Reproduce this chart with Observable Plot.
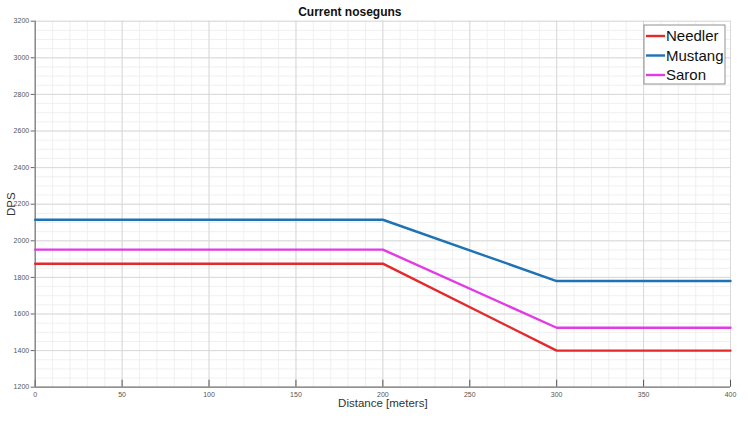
<!DOCTYPE html>
<html>
<head>
<meta charset="utf-8">
<script src="https://cdn.jsdelivr.net/npm/d3@7"></script>
<script src="https://cdn.jsdelivr.net/npm/@observablehq/plot@0.6"></script>
<style>
  html, body { margin: 0; padding: 0; background: #fff; }
  #chart { width: 749px; height: 427px; }
  svg { font-family: "Liberation Sans", Arial, sans-serif; }
</style>
</head>
<body>
<div id="chart"></div>
<script>
const title = "Current noseguns";
const xLabel = "Distance [meters]";
const yLabel = "DPS";
const series = ["Needler", "Mustang", "Saron"];
const colors = ["#e3292c", "#1f72b3", "#e23be6"];
const distance = [0, 200, 300, 400];
const needler = [1875, 1875, 1400, 1400];
const mustang = [2115, 2115, 1780, 1780];
const saron = [1952, 1952, 1525, 1525];
const xTicks = [0, 50, 100, 150, 200, 250, 300, 350, 400];
const yTicks = [1200, 1400, 1600, 1800, 2000, 2200, 2400, 2600, 2800, 3000, 3200];
const xMinor = d3.range(0, 401, 10);
const yMinor = d3.range(1200, 3201, 50);

const values = [needler, mustang, saron];
const rows = [];
series.forEach((s, i) => distance.forEach((d, j) => rows.push({series: s, x: d, y: values[i][j]})));

const W = 749, H = 427;
const mL = 34.7, mR = 19, mT = 20.7, mB = 40.3;
const frameH = H - mT - mB;

const chart = Plot.plot({
  width: W,
  height: H,
  marginLeft: mL,
  marginRight: mR,
  marginTop: mT,
  marginBottom: mB,
  style: {background: "#fff", fontFamily: "Liberation Sans, Arial, sans-serif"},
  x: {domain: [0, 400]},
  y: {domain: [1200, 3200]},
  color: {domain: series, range: colors},
  marks: [
    Plot.gridX(xMinor, {stroke: "#ececec", strokeOpacity: 1, strokeWidth: 0.8}),
    Plot.gridY(yMinor, {stroke: "#ececec", strokeOpacity: 1, strokeWidth: 0.8}),
    Plot.gridX(xTicks, {stroke: "#d6d6d6", strokeOpacity: 1, strokeWidth: 0.9}),
    Plot.gridY(yTicks, {stroke: "#d6d6d6", strokeOpacity: 1, strokeWidth: 0.9}),
    Plot.axisX(xTicks, {tickSize: 0, tickPadding: 5, fontSize: 7, color: "#555", label: null, tickFormat: d => String(d)}),
    Plot.axisY(yTicks, {tickSize: 4, tickPadding: 2, fontSize: 7, color: "#555", stroke: "#666", label: null, tickFormat: d => String(d)}),
    Plot.ruleX(xTicks, {x: d => d, stroke: "#555", strokeWidth: 1, insetTop: frameH - 7}),
    Plot.ruleX([0], {stroke: "#777", strokeWidth: 1.2}),
    Plot.ruleY([1200], {stroke: "#777", strokeWidth: 1.2}),
    Plot.line(rows, {x: "x", y: "y", z: "series", stroke: "series", strokeWidth: 2.4}),
    Plot.text([title], {frameAnchor: "top", dx: -33, dy: -14, fontSize: 12, fontWeight: "bold", fill: "#111", textAnchor: "middle"}),
    Plot.text([xLabel], {frameAnchor: "bottom", dy: 20, fontSize: 11.5, fill: "#333", textAnchor: "middle"}),
    Plot.text([yLabel], {frameAnchor: "left", dx: -24, rotate: -90, fontSize: 11.5, fill: "#333", textAnchor: "middle"})
  ]
});

const svg = d3.select(chart);
const lg = svg.append("g").attr("transform", "translate(644,25)");
lg.append("rect").attr("width", 81).attr("height", 59).attr("fill", "#fff").attr("stroke", "#777").attr("stroke-width", 0.8);
series.forEach((s, i) => {
  const cy = 11 + i * 19.5;
  lg.append("line").attr("x1", 2).attr("x2", 21).attr("y1", cy).attr("y2", cy)
    .attr("stroke", colors[i]).attr("stroke-width", 2.4);
  lg.append("text").attr("x", 22).attr("y", cy).attr("dy", "0.36em")
    .attr("text-anchor", "start")
    .attr("font-size", 15).attr("fill", "#111").text(s);
});

document.getElementById("chart").appendChild(chart);
</script>
</body>
</html>
